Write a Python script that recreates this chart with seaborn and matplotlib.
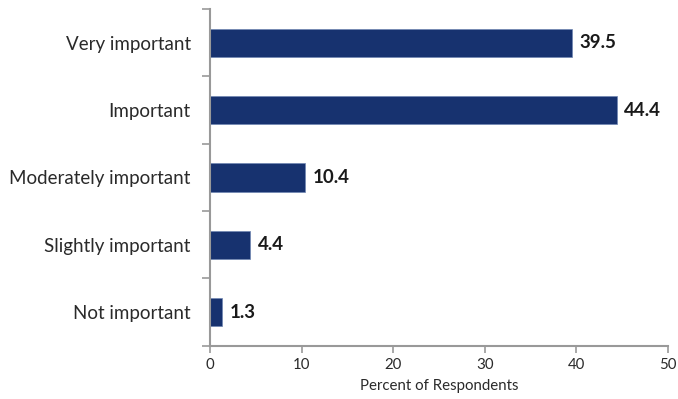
import matplotlib
matplotlib.use("Agg")
import matplotlib.pyplot as plt
import seaborn as sns
import pandas as pd
import numpy as np

categories = ["Very important", "Important", "Moderately important",
              "Slightly important", "Not important"]
values = [39.5, 44.4, 10.4, 4.4, 1.3]
x_ticks = [0, 10, 20, 30, 40, 50]
x_label = "Percent of Respondents"

sns.set_theme(style="white")
plt.rcParams["font.family"] = ["Lato", "DejaVu Sans"]

df = pd.DataFrame({"category": categories, "value": values})

fig = plt.figure(figsize=(6.78, 3.99), dpi=100)
ax = fig.add_axes([0.31, 0.1336, 0.675, 0.8434])

bar_color = "#17326f"
sns.barplot(data=df, x="value", y="category", orient="h", color=bar_color,
            width=0.42, edgecolor="#6f86b3", linewidth=0.5, ax=ax,
            saturation=1)

for i, v in enumerate(values):
    ax.text(v + 0.8, i, f"{v:.1f}", va="center", ha="left",
            fontsize=13.5, fontweight="bold", color="#1a1a1a")

ax.set_xlim(0, 50)
ax.set_ylim(len(categories) - 0.5, -0.5)
ax.set_xticks(x_ticks)
ax.set_xticklabels([str(t) for t in x_ticks], fontsize=10.8, color="#2a2a2a")
ax.set_xlabel(x_label, fontsize=10.8, color="#2a2a2a", labelpad=5)
ax.set_ylabel("")
ax.tick_params(axis="y", which="major", length=0, labelsize=13.5,
               labelcolor="#2a2a2a", pad=14)
ax.set_yticks(np.arange(-0.5, len(categories), 1.0), minor=True)
ax.tick_params(axis="y", which="minor", length=6, width=1.2, color="#999999",
               direction="out", left=True)
ax.tick_params(axis="x", which="major", length=5, width=1.2, color="#999999",
               direction="out", bottom=True, pad=4)

for side in ["top", "right"]:
    ax.spines[side].set_visible(False)
for side in ["left", "bottom"]:
    ax.spines[side].set_color("#999999")
    ax.spines[side].set_linewidth(1.5)

fig.savefig("out.png", dpi=100)
